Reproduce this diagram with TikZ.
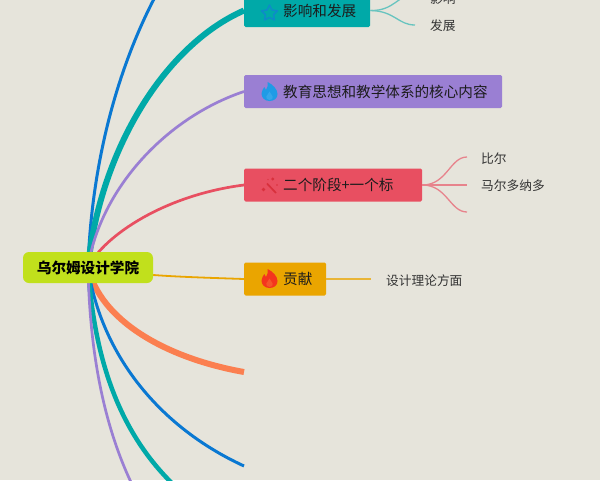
\documentclass[tikz,border=0pt]{standalone}
\usepackage{fontspec}
\setmainfont{Noto Sans CJK SC}
\usetikzlibrary{backgrounds}
\definecolor{bgc}{HTML}{E6E4DB}
\definecolor{rootc}{HTML}{C1E01C}
\definecolor{tealc}{HTML}{00A9A8}
\definecolor{purpc}{HTML}{9A7FD3}
\definecolor{redc}{HTML}{E84F61}
\definecolor{goldc}{HTML}{EAA500}
\definecolor{orgc}{HTML}{FB7F50}
\definecolor{bluec}{HTML}{0A78D2}
\definecolor{ink}{HTML}{1C1C1C}
\definecolor{iconblue}{HTML}{1F9BE6}
\definecolor{iconblueL}{HTML}{35A6EA}
\definecolor{iconred}{HTML}{F4351E}
\definecolor{iconredL}{HTML}{F5552A}
\definecolor{iconstar}{HTML}{0E8BC8}
\definecolor{iconwand}{HTML}{D8303C}
\newcommand{\btext}[1]{\hspace*{39pt}\raisebox{-1pt}{#1}}
\tikzset{
  x=1pt,y=-1pt,
  branch/.style={rounded corners=1.5pt,minimum height=33pt,inner xsep=0pt,inner ysep=0pt,anchor=west,text=ink,align=left,font=\fontsize{14.6}{16}\selectfont},
  rootbox/.style={fill=rootc,rounded corners=6pt,minimum width=130pt,minimum height=31pt,inner sep=0pt,text=black,font=\fontsize{14.6}{16}\selectfont\bfseries},
  leaf/.style={anchor=west,inner sep=0pt,text=ink!90,font=\fontsize{12.7}{14}\selectfont},
  link/.style={fill=none},
  sublink/.style={line width=1.3pt,fill=none},
  pics/flame/.style n args={2}{code={
     \fill[#1] (0,9) .. controls (-5,9) and (-8,5.5) .. (-8,1.5) .. controls (-8,-1.5) and (-6,-3) .. (-5.2,-5) .. controls (-4.2,-3.8) and (-3.8,-3) .. (-3.5,-2) .. controls (-2,-4) and (-1.5,-7) .. (-1.8,-10) .. controls (3,-7.5) and (8,-3) .. (8,2) .. controls (8,6) and (5,9) .. (0,9) -- cycle;
     \fill[#2] (0,8) .. controls (-2.5,8) and (-3.5,6) .. (-3.2,4.5) .. controls (-2.8,3) and (-1,2) .. (0,-0.5) .. controls (1,2) and (3,3) .. (3.2,4.8) .. controls (3.4,6.5) and (2.5,8) .. (0,8) -- cycle;
  }}
}
\pgfdeclarelayer{canvas}
\pgfsetlayers{canvas,background,main}
\begin{document}
\begin{tikzpicture}
\useasboundingbox (0,0) rectangle (600,480);
\clip (0,0) rectangle (600,480);
\begin{pgfonlayer}{canvas}
\fill[bgc] (0,0) rectangle (600,480);
\end{pgfonlayer}

\coordinate (c0) at (88,267);
\coordinate (topend) at (190,-60);
\coordinate (orgend) at (244,372);
\coordinate (blueend) at (244,466);
\coordinate (tealend) at (197,505);
\coordinate (purpend) at (140,500);

\node[rootbox] (root) at (88,267.5) {\raisebox{-0.5pt}{乌尔姆设计学院}};
\node[branch,fill=tealc,text width=126pt] (infl) at (244,10.5) {\btext{影响和发展}};
\node[branch,fill=purpc,text width=258pt] (edu) at (244,91.5) {\btext{教育思想和教学体系的核心内容}};
\node[branch,fill=redc,text width=178pt] (two) at (244,185) {\btext{二个阶段+一个标}};
\node[branch,fill=goldc,text width=82pt] (gong) at (244,279) {\btext{贡献}};

\begin{pgfonlayer}{background}
\draw[link,bluec,line width=3pt] (c0) .. controls (92,150) and (125,30) .. (topend);
\draw[link,tealc,line width=6pt] (c0) .. controls (100,150) and (165,45) .. (infl.west);
\draw[link,purpc,line width=2.7pt] (c0) .. controls (100,190) and (165,118) .. (edu.west);
\draw[link,redc,line width=2.7pt] (c0) .. controls (105,235) and (165,195) .. (two.west);
\draw[link,goldc,line width=1.8pt] (root.east) ++(0,7.5) .. controls (180,277) and (215,278) .. (gong.west);
\draw[link,orgc,line width=6pt] (c0) .. controls (100,320) and (165,358) .. (orgend);
\draw[link,bluec,line width=3pt] (c0) .. controls (100,350) and (155,425) .. (blueend);
\draw[link,tealc,line width=4.5pt] (c0) .. controls (95,370) and (125,450) .. (tealend);
\draw[link,purpc,line width=2.7pt] (c0) .. controls (90,370) and (110,445) .. (purpend);
\end{pgfonlayer}

% icons
\draw[iconstar,line width=1.5pt,line join=round] (269.5,5) -- (272,10) -- (277.5,10.8) -- (273.5,14.7) -- (274.5,20) -- (269.5,17.5) -- (264.5,20) -- (265.5,14.7) -- (261.5,10.8) -- (267,10) -- cycle;
\pic at (269.5,92) {flame={iconblue}{iconblueL}};
\pic at (269.5,279) {flame={iconred}{iconredL}};
\draw[iconwand,line width=1.7pt] (267,183.5) -- (276,193);
\fill[iconwand] (263.5,189.5) circle (1.9pt) (272.8,179) circle (1.6pt) (277,185) circle (0.9pt) (268,179.5) circle (0.7pt);

% leaves
\node[leaf] (l1) at (430,-1) {影响};
\node[leaf] (l2) at (430,26) {发展};
\node[leaf] (l3) at (481,158.5) {比尔};
\node[leaf] (l4) at (481,186) {马尔多纳多};
\node[leaf] (l5) at (386,281) {设计理论方面};
\coordinate (e1) at (415,-6);
\coordinate (e2) at (415,25);
\coordinate (e3) at (467,157);
\coordinate (e4) at (467,185);
\coordinate (e5) at (467,212);
\coordinate (e6) at (371,279);

\draw[sublink,tealc!55!bgc] (infl.east) .. controls (395,11) and (398,-6) .. (e1);
\draw[sublink,tealc!55!bgc] (infl.east) .. controls (395,11) and (398,25) .. (e2);
\draw[sublink,redc!65!bgc] (two.east) .. controls (447,185) and (450,157) .. (e3);
\draw[sublink,redc!65!bgc] (two.east) -- (e4);
\draw[sublink,redc!65!bgc] (two.east) .. controls (447,185) and (450,212) .. (e5);
\draw[sublink,goldc!75!bgc] (gong.east) -- (e6);
\end{tikzpicture}
\end{document}
